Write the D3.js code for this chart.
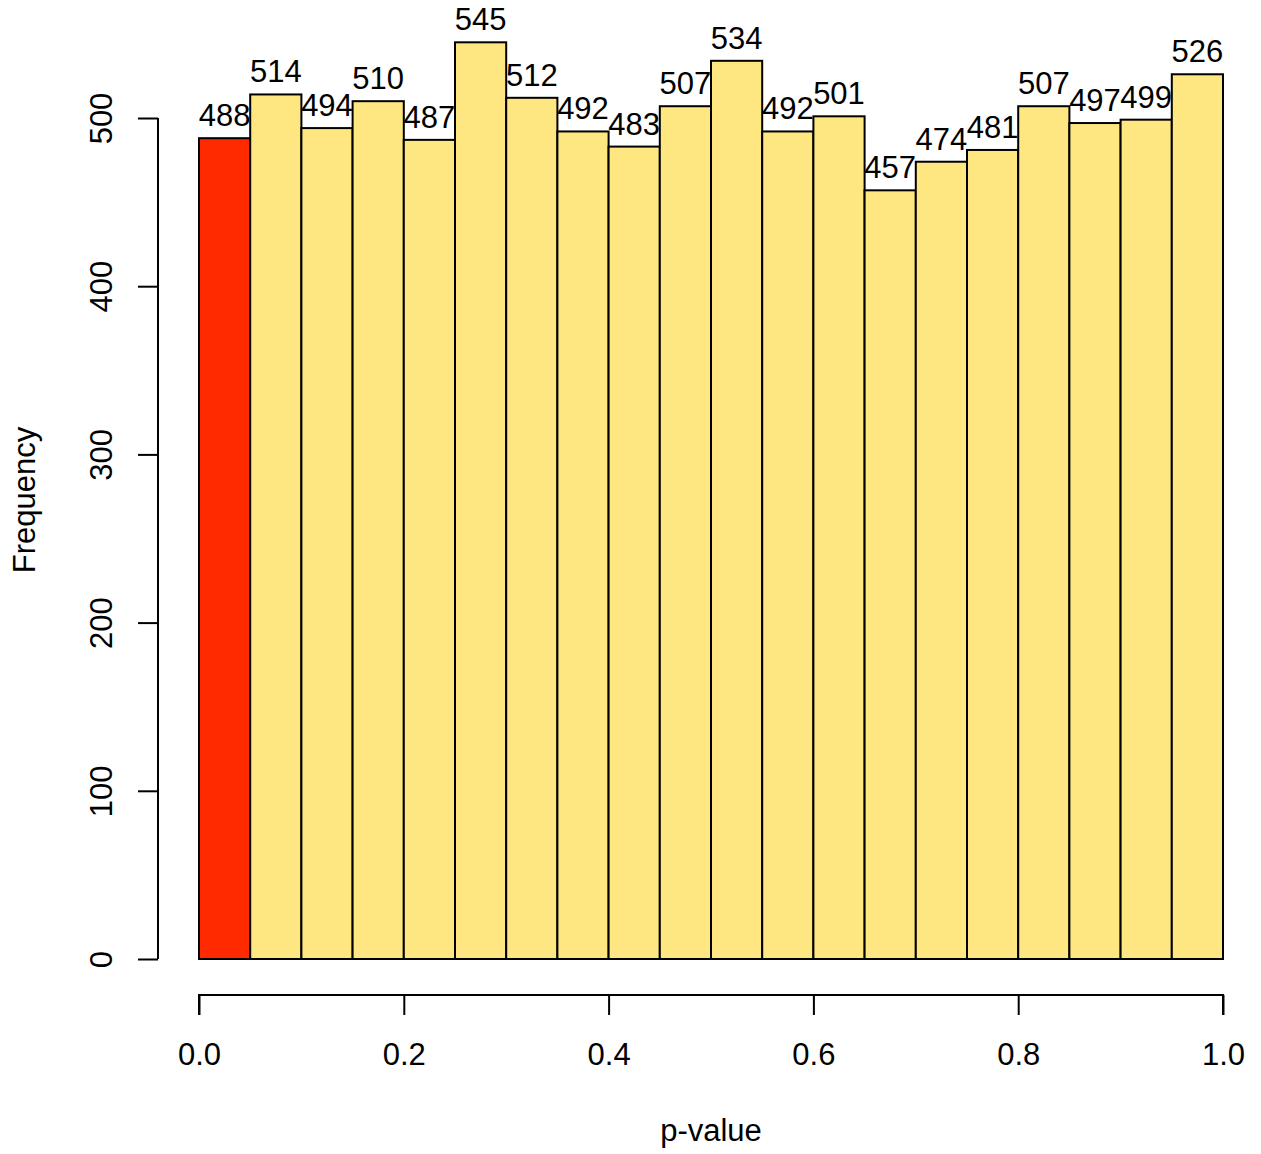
<!DOCTYPE html>
<html>
<head>
<meta charset="utf-8">
<script src="https://cdn.jsdelivr.net/npm/d3@7"></script>
<style>
  html, body { margin: 0; padding: 0; background: #fff; }
  svg text { font-family: "Liberation Sans", Arial, sans-serif; fill: #000; }
</style>
</head>
<body>
<svg id="chart" width="1261" height="1154"></svg>
<script>
// Histogram of p-values: 20 bins of width 0.05 on [0, 1]
const binStarts = [0.00, 0.05, 0.10, 0.15, 0.20, 0.25, 0.30, 0.35, 0.40, 0.45,
                   0.50, 0.55, 0.60, 0.65, 0.70, 0.75, 0.80, 0.85, 0.90, 0.95];
const counts = [488, 514, 494, 510, 487, 545, 512, 492, 483, 507,
                534, 492, 501, 457, 474, 481, 507, 497, 499, 526];
const binWidth = 0.05;
const xTicks = [0, 0.2, 0.4, 0.6, 0.8, 1.0];
const yTicks = [0, 100, 200, 300, 400, 500];
const xTitle = "p-value";
const yTitle = "Frequency";
const significanceCut = 0.05;

const svg = d3.select("#chart");
const fontSize = 31;
const fontFamily = '"Liberation Sans", Arial, sans-serif';

const x = d3.scaleLinear().domain([0, 1]).range([199, 1223]);
const y = d3.scaleLinear().domain([0, 500]).range([959, 118]);

const bins = binStarts.map((s, i) => ({ s, c: counts[i] }));

// bars
svg.append("g")
  .selectAll("rect")
  .data(bins)
  .join("rect")
  .attr("x", d => x(d.s))
  .attr("y", d => y(d.c))
  .attr("width", d => x(d.s + binWidth) - x(d.s))
  .attr("height", d => y(0) - y(d.c))
  .attr("fill", d => d.s < significanceCut ? "#ff2a00" : "#fee680")
  .attr("stroke", "#000")
  .attr("stroke-width", 2);

// count labels above bars
svg.append("g")
  .selectAll("text")
  .data(bins)
  .join("text")
  .attr("x", d => x(d.s + binWidth / 2))
  .attr("y", d => y(d.c) - 12)
  .attr("text-anchor", "middle")
  .style("font-size", fontSize + "px")
  .text(d => d.c);

// x axis, offset below the plot like R's base graphics
const xAxis = d3.axisBottom(x)
  .tickValues(xTicks)
  .tickFormat(d3.format(".1f"))
  .tickSize(20);
const gx = svg.append("g").attr("transform", "translate(0,995)").call(xAxis);
gx.select(".domain").attr("d", `M${x(0)},20V0H${x(1)}V20`).attr("stroke-width", 2);
gx.selectAll(".tick line").attr("stroke-width", 2);
gx.selectAll(".tick text")
  .style("font-size", fontSize + "px")
  .style("font-family", fontFamily)
  .attr("y", 70)
  .attr("dy", null);

// y axis
const yAxis = d3.axisLeft(y)
  .tickValues(yTicks)
  .tickSize(20);
const gy = svg.append("g").attr("transform", "translate(158,0)").call(yAxis);
gy.select(".domain").attr("d", `M0,${y(0)}V${y(500)}`).attr("stroke-width", 2);
gy.selectAll(".tick line").attr("stroke-width", 2);
gy.selectAll(".tick text")
  .style("font-size", fontSize + "px")
  .style("font-family", fontFamily)
  .attr("text-anchor", "middle")
  .attr("x", null).attr("dy", null)
  .attr("y", 0)
  .attr("transform", "translate(-57,0) rotate(-90)")
  .attr("dominant-baseline", "central");

// axis titles
svg.append("text")
  .attr("x", x(0.5))
  .attr("y", 1141)
  .attr("text-anchor", "middle")
  .style("font-size", fontSize + "px")
  .text(xTitle);

svg.append("text")
  .attr("transform", "translate(35,500) rotate(-90)")
  .attr("text-anchor", "middle")
  .style("font-size", fontSize + "px")
  .text(yTitle);
</script>
</body>
</html>
